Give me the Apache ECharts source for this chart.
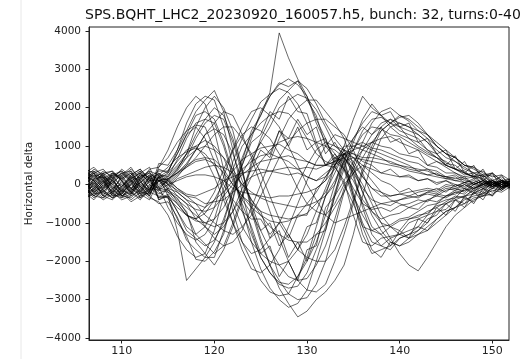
<!DOCTYPE html>
<html>
<head>
<meta charset="utf-8">
<script src="https://cdn.jsdelivr.net/npm/echarts@6/dist/echarts.min.js"></script>
<style>
  html, body { margin: 0; padding: 0; background: #fff; }
  #chart { width: 526px; height: 359px; }
</style>
</head>
<body>
<div id="chart"></div>
<script>
// bunch position samples (x axis)
const xs = [106,107,108,109,110,111,112,113,114,115,116,117,118,119,120,121,122,123,124,125,126,127,128,129,130,
  131,132,133,134,135,136,137,138,139,140,141,142,143,144,145,146,147,148,149,150,151,152]

const xTicks = [110, 120, 130, 140, 150]
const yTicks = [-4000, -3000, -2000, -1000, 0, 1000, 2000, 3000, 4000]

// horizontal delta per turn
const turn0 = [120,250,180,-150,-300,-100,200,350,-400,
  -300,-1200,-2500,-2200,-1900,-1500,-900,-200,700,1300,
  1800,2400,3950,3300,2750,2300,1600,1100,800,500,
  -300,-1000,-1500,-1600,-1400,-1300,-1200,-1100,-800,-700,
  -500,-400,-300,-150,-250,0,-100,50]
const turn1 = [-250,-100,150,300,100,-200,-350,-50,300,
  100,400,800,1300,1700,2000,1800,1200,400,-600,
  -1400,-2100,-2700,-3100,-3450,-3300,-3000,-2800,-2500,-2100,
  -1300,-300,600,1200,1500,1600,1500,1300,1100,900,
  700,600,400,300,350,100,200,0]
const turn2 = [300,350,100,-200,-50,250,400,150,-350,
  -100,-450,-700,-1500,-1800,-2100,-1700,-1100,-400,500,
  1200,1700,2200,2450,2700,2500,2100,1600,1200,900,
  300,-600,-1300,-1600,-1700,-1400,-1300,-1100,-1200,-900,
  -700,-600,-350,-450,-200,-300,-50,100]
const turn3 = [-100,50,-300,-400,-150,100,-50,-300,200,
  -300,-700,-1100,-1300,-1100,-600,200,900,1500,1900,
  2000,1800,1500,1000,500,0,-400,-800,-1000,-900,
  -800,-700,-600,-500,-550,-400,-300,-350,-200,-250,
  -100,-150,0,-100,50,-50,0,100]
const turn4 = [150,-250,-200,100,300,350,0,-150,400,
  300,900,1600,2100,2300,2200,1500,500,-600,-1500,
  -2200,-2700,-3000,-3200,-3100,-2750,-2000,-1200,-300,400,
  1100,1700,2100,1800,1900,1500,1600,1100,1200,800,
  900,400,600,200,400,0,250,-100]
const turn5 = [400,150,-100,50,250,-100,-300,-200,-300,
  -350,-900,-1350,-1950,-2000,-1750,-1300,-350,600,1400,
  1800,2300,2650,2550,2700,2200,1800,1000,700,600,
  -200,-1100,-1700,-1900,-1500,-1600,-1400,-1200,-1000,-700,
  -650,-400,-500,-200,-300,-100,100,-50]
const turn6 = [-350,-150,100,250,-100,-300,-150,200,350,
  350,800,1300,1500,1200,600,-200,-1000,-1700,-2200,
  -2300,-2100,-1700,-1100,-500,100,600,1000,1300,1200,
  1100,1000,900,800,700,600,500,350,400,250,
  200,100,150,0,100,-50,50,0]
const turn7 = [50,300,400,150,-200,0,250,100,100,
  150,400,800,1500,2000,2300,2000,1400,400,-700,
  -1500,-2100,-2500,-2850,-3000,-2950,-2600,-2000,-1100,-200,
  500,1100,1600,1900,2000,1800,1650,1400,1300,1000,
  800,700,500,450,200,300,100,150]
const turn8 = [-200,-400,-100,200,350,100,-150,-350,-450,
  -800,-1350,-1700,-1900,-1800,-1200,-300,600,1200,1700,
  2150,2350,2500,2400,2100,1600,1000,500,450,100,
  -800,-1500,-1600,-1400,-1350,-1300,-1000,-900,-800,-500,
  -400,-350,-100,-250,0,150,-100,0]
const turn9 = [250,100,-150,-350,-200,150,300,50,-100,
  100,-200,-400,-700,-1100,-1400,-1600,-1500,-1200,-600,
  0,600,1200,1700,2000,2200,2200,1900,1600,1200,
  500,-200,-800,-1200,-1500,-1600,-1500,-1300,-1100,-900,
  -700,-600,-400,-300,-250,-100,-150,0]
const turn10 = [0,200,300,-100,-350,-250,100,400,450,
  900,1500,2000,2300,2100,1400,400,-700,-1500,-2000,
  -2500,-2800,-2900,-2850,-2400,-1900,-1100,-300,500,1000,
  1700,2300,2000,1800,1600,1500,1200,1100,900,700,
  600,400,250,300,100,0,150,-100]
const turn11 = [-150,-50,250,350,100,-200,-400,-100,-150,
  -200,-350,-750,-1300,-1550,-1800,-1600,-1000,-300,600,
  1100,1500,2000,2200,2350,2250,1950,1500,1000,800,
  200,-500,-1100,-1300,-1600,-1200,-1400,-900,-1000,-600,
  -800,-400,-600,-200,-400,0,-150,50]
const turn12 = [300,0,-250,-150,200,400,150,-100,100,
  -50,200,500,900,1300,1600,1900,1800,1300,700,
  0,-700,-1400,-2000,-2500,-2750,-2800,-2600,-2000,-1300,
  -500,300,900,1400,1600,1800,1700,1500,1300,1100,
  900,700,500,400,250,300,100,50]
const turn13 = [-400,-200,50,200,-50,150,300,-150,200,
  350,800,1300,1800,1900,1700,1100,300,-700,-1300,
  -1900,-2300,-2600,-2700,-2650,-2300,-1700,-1100,-200,500,
  900,1400,1700,1750,1600,1400,1300,1200,900,800,
  550,500,300,200,250,0,100,50]
const turn14 = [100,350,200,-250,-350,0,250,200,-400,
  -250,-700,-1200,-1400,-1600,-1450,-1000,-150,500,1100,
  1300,1900,1700,2300,1900,1850,1100,1200,500,700,
  -300,-800,-1200,-1300,-1100,-1200,-900,-850,-700,-600,
  -450,-300,-350,-100,-200,50,-150,50]
const turn15 = [-50,-300,-350,-100,150,300,-200,-250,100,
  -200,-500,-800,-900,-600,-200,400,900,1300,1500,
  1400,1200,800,400,-100,-500,-700,-800,-500,0,
  300,500,300,100,0,-200,-100,-300,-200,-100,
  -200,0,-100,50,-50,100,0,-50]
const turn16 = [200,100,-300,-200,250,450,100,-250,200,
  100,350,700,1200,1600,1800,1700,1100,300,-500,
  -1200,-1700,-2100,-2400,-2500,-2450,-2100,-1600,-900,-100,
  400,900,1300,1600,1700,1500,1400,1300,1100,800,
  500,750,300,500,100,300,-100,150]
const turn17 = [-300,50,300,100,-150,-400,-200,200,-50,
  -600,-1000,-1300,-1450,-1300,-900,-100,400,1000,1300,
  1600,1800,1900,1850,1600,1200,800,600,500,0,
  -500,-1100,-1200,-1100,-1050,-900,-850,-700,-550,-500,
  -300,-250,-150,0,-100,100,0,-100]
const turn18 = [350,200,50,-300,-250,100,200,-100,150,
  300,600,900,1000,700,200,-400,-1000,-1500,-1800,
  -1700,-1400,-1000,-500,0,500,900,1100,1000,900,
  800,600,500,300,400,200,250,100,150,0,
  100,-50,50,0,100,-100,0,50]
const turn19 = [-100,-350,-150,150,400,200,-100,-300,250,
  200,650,1200,1600,1700,1600,1000,200,-500,-1100,
  -1800,-1600,-2400,-2000,-2500,-1700,-1600,-600,-300,700,
  900,1300,1500,1450,1300,1250,1100,950,800,700,
  500,400,350,150,200,-50,50,0]
const turn20 = [150,400,250,0,-300,-150,300,450,-100,
  -150,-300,-500,-900,-1100,-1300,-1100,-700,-100,400,
  900,700,1400,1200,1700,1300,1500,800,1100,700,
  400,-200,-700,-1000,-1100,-950,-900,-800,-750,-550,
  -500,-350,-300,-250,-100,-200,0,100]
const turn21 = [-250,-150,100,-200,-400,-300,50,250,-150,
  0,-150,-300,-500,-800,-1000,-1200,-1300,-1100,-800,
  -300,200,700,1100,1400,1600,1700,1700,1500,1300,
  900,300,-300,-800,-1100,-1300,-1400,-1300,-1200,-1000,
  -800,-600,-500,-350,-300,-150,-200,-50]
const turn22 = [50,-200,-400,-250,100,300,-50,-200,450,
  700,1100,1400,1550,1500,900,200,-500,-1100,-1500,
  -1800,-2000,-2100,-2000,-1700,-1300,-700,-100,500,900,
  1200,1500,1300,1500,1100,1200,800,900,500,600,
  450,300,200,250,0,100,-100,50]
const turn23 = [400,300,-50,100,-150,-250,150,300,100,
  150,300,450,700,1000,1300,1500,1500,1200,800,
  300,-300,-900,-1300,-1700,-1900,-2000,-2000,-1700,-1100,
  -400,400,1000,1500,1700,1600,1500,1400,1200,1000,
  800,700,500,450,300,200,250,100]
const turn24 = [-200,100,250,-50,-250,50,350,0,-350,
  -300,-500,-800,-950,-1000,-900,-600,-100,300,700,
  1100,800,1400,1000,1500,900,1100,500,800,400,
  100,-400,-700,-900,-800,-750,-600,-650,-400,-450,
  -300,-200,-250,-50,-150,50,-100,0]
const turn25 = [200,-100,-300,150,300,50,-250,-400,100,
  50,300,550,900,1300,1450,1300,800,100,-400,
  -700,-1400,-1200,-1900,-1500,-2000,-1300,-1200,-300,100,
  600,900,1100,1200,1250,1100,1000,900,750,600,
  500,400,300,200,250,50,100,-50]
const turn26 = [-350,-250,50,300,150,-150,-50,200,250,
  -150,-400,-600,-800,-1000,-1100,-1000,-700,-300,200,
  600,900,1100,1200,1250,1200,1100,1000,900,700,
  400,0,-500,-1000,-1400,-1800,-2100,-2250,-1900,-1500,
  -1100,-800,-600,-400,-300,-250,-100,0]
const turn27 = [100,300,150,-250,-100,250,400,100,-200,
  -350,-600,-800,-900,-750,-400,50,350,650,800,
  950,1000,1050,900,800,600,500,500,700,400,
  -100,-500,-650,-600,-700,-550,-500,-400,-450,-250,
  -300,-150,-100,-200,50,-50,100,0]
const turn28 = [-150,150,350,200,-300,-350,-100,150,200,
  250,500,800,1000,1150,1000,700,100,-400,-750,
  -1200,-1000,-1600,-1300,-1700,-1100,-1000,-300,0,800,
  900,1000,1100,1000,950,800,750,700,500,450,
  300,300,150,200,0,100,-50,0]
const turn29 = [250,-50,-200,-350,-50,200,100,-200,100,
  200,450,700,900,1000,900,700,400,0,-400,
  -800,-1100,-1300,-1450,-1500,-1500,-1300,-1000,-600,-200,
  300,700,1100,1400,1600,1750,1800,1600,1300,1000,
  800,600,450,300,200,250,50,100]
const turn30 = [-50,-300,-100,250,350,150,-250,-150,200,
  0,-300,-500,-650,-700,-600,-300,0,250,450,
  600,650,700,750,650,600,500,500,600,700,
  300,-100,-400,-500,-450,-400,-350,-300,-250,-300,
  -150,-100,-200,0,100,-50,50,150]
const turn31 = [300,450,200,-100,0,-200,150,350,250,
  450,700,850,950,800,500,0,-400,-700,-900,
  -900,-1300,-1000,-1400,-800,-800,-100,100,700,800,
  1000,1100,950,900,800,700,600,550,400,350,
  200,250,100,50,150,-50,50,-100]
const turn32 = [-300,-100,200,100,-200,-450,-300,0,-250,
  -100,-200,-400,-500,-600,-400,-200,100,400,600,
  750,800,700,600,400,200,100,200,500,900,
  700,400,100,-200,-400,-500,-600,-500,-400,-300,
  -350,-200,-150,-100,0,-100,50,0]
const turn33 = [0,250,100,-300,-150,200,350,150,-150,
  150,300,500,650,700,650,400,0,-300,-500,
  -700,-800,-850,-900,-850,-750,-500,-200,300,800,
  800,700,700,650,600,500,450,400,350,250,
  200,150,200,0,100,50,-50,100]
const turn34 = [150,-150,-350,-200,50,-100,-250,100,300,
  0,250,450,600,650,550,300,0,-300,-600,
  -800,-950,-1000,-950,-800,-500,-200,200,600,1000,
  1000,900,800,700,550,500,400,350,250,300,
  150,200,50,100,0,50,-50,0]
const turn35 = [-200,0,300,350,100,-250,50,-150,-50,
  100,-100,-300,-350,-500,-450,-400,-200,0,200,
  300,350,400,450,400,450,400,500,600,800,
  500,200,-100,-300,-300,-250,-300,-200,-150,-200,
  -50,-100,0,-150,50,100,-50,0]
const turn36 = [350,100,-200,50,-300,-200,200,300,100,
  -100,150,250,350,450,500,450,300,0,-200,
  -350,-450,-500,-550,-600,-550,-450,-300,100,600,
  700,650,600,550,500,450,350,300,250,200,
  150,100,50,150,-50,0,100,0]
const turn37 = [-100,-300,0,250,150,350,-50,-300,-500,
  -450,-850,-1450,-1700,-1900,-1900,-1200,-400,500,1200,
  1900,2300,2600,2750,2600,2300,1700,1200,600,400,
  -400,-1300,-1800,-1700,-1600,-1400,-1300,-1200,-900,-800,
  -500,-700,-300,-500,-100,-300,100,-150]
const turn38 = [200,300,-150,-350,-250,0,-200,100,150,
  0,100,200,250,250,200,100,-100,-200,-250,
  -300,-350,-300,-300,-250,-200,-100,100,400,800,
  700,500,400,300,250,200,200,100,150,50,
  100,0,-50,50,-100,0,50,-50]
const turn39 = [-250,150,200,0,300,100,-350,-200,550,
  500,900,1400,1900,2200,2450,1900,900,-200,-1200,
  -1900,-2300,-2550,-2600,-2400,-2000,-1500,-800,0,600,
  1200,1600,1900,1800,1500,1300,1200,1000,850,700,
  500,400,300,200,150,0,100,-50]
const turn40 = [50,-200,-50,300,200,-100,50,250,0,
  150,-100,-250,-300,-200,-100,100,200,300,350,
  400,350,300,250,300,200,100,300,500,800,
  600,200,-100,-200,-300,-250,-200,-150,-100,-150,
  0,-50,50,-100,0,50,-50,0]

const turns = [turn0, turn1, turn2, turn3, turn4, turn5, turn6, turn7, turn8, turn9,
  turn10, turn11, turn12, turn13, turn14, turn15, turn16, turn17, turn18, turn19,
  turn20, turn21, turn22, turn23, turn24, turn25, turn26, turn27, turn28, turn29,
  turn30, turn31, turn32, turn33, turn34, turn35, turn36, turn37, turn38, turn39, turn40]

const fontFamily = 'DejaVu Sans'
const minus = v => (v < 0 ? '\u2212' + Math.abs(v) : String(v))

const chart = echarts.init(document.getElementById('chart'), null, { renderer: 'canvas' })

chart.setOption({
  animation: false,
  backgroundColor: '#fff',
  title: {
    text: 'SPS.BQHT_LHC2_20230920_160057.h5, bunch: 32, turns:0-40',
    left: 80,
    top: 3,
    textStyle: { fontFamily, fontSize: 14, fontWeight: 'normal', color: '#111' }
  },
  grid: {
    left: 89, right: 17, top: 27, bottom: 19,
    show: true, borderColor: '#222', borderWidth: 1, backgroundColor: 'transparent'
  },
  xAxis: {
    type: 'value',
    min: 106.47,
    max: 151.8,
    axisLine: { show: true, onZero: false, lineStyle: { color: '#222' } },
    axisTick: { show: true, length: 3.5, customValues: xTicks, lineStyle: { color: '#222' } },
    axisLabel: { customValues: xTicks, margin: 6, fontFamily, fontSize: 11, color: '#222' },
    splitLine: { show: false }
  },
  yAxis: {
    type: 'value',
    min: -4052,
    max: 4104,
    name: 'Horizontal delta',
    nameLocation: 'middle',
    nameGap: 54,
    nameTextStyle: { fontFamily, fontSize: 10.5, color: '#222' },
    axisLine: { show: true, onZero: false, lineStyle: { color: '#222' } },
    axisTick: { show: true, length: 3.5, customValues: yTicks, lineStyle: { color: '#222' } },
    axisLabel: { customValues: yTicks, margin: 8, fontFamily, fontSize: 10.5, color: '#222', formatter: minus },
    splitLine: { show: false }
  },
  graphic: [{
    type: 'line',
    shape: { x1: 21, y1: 0, x2: 21, y2: 359 },
    style: { stroke: '#e8e8e8', lineWidth: 1 }
  }],
  series: turns.map((t, i) => ({
    name: 'turn ' + i,
    type: 'line',
    data: t.map((v, j) => [xs[j], v]),
    symbol: 'none',
    clip: true,
    lineStyle: { color: '#000', width: 0.7, opacity: 0.85 }
  }))
})
</script>
</body>
</html>
